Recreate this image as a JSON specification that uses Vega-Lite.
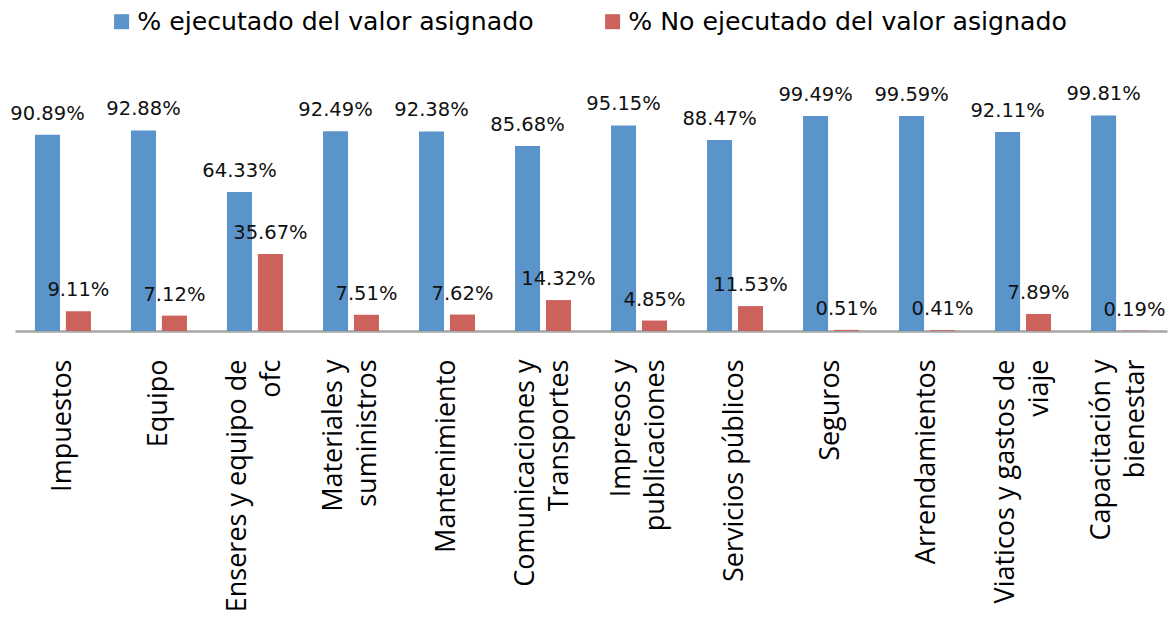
{
  "$schema": "https://vega.github.io/schema/vega-lite/v6.json",
  "width": 1152,
  "height": 216,
  "autosize": {"type": "none"},
  "padding": {"left": 15, "top": 115, "right": 5, "bottom": 291},
  "data": {
    "values": [
      {"categoria": "Impuestos", "serie": "% ejecutado del valor asignado", "valor": 0.9089},
      {"categoria": "Impuestos", "serie": "% No ejecutado del valor asignado", "valor": 0.0911},
      {"categoria": "Equipo", "serie": "% ejecutado del valor asignado", "valor": 0.9288},
      {"categoria": "Equipo", "serie": "% No ejecutado del valor asignado", "valor": 0.0712},
      {"categoria": "Enseres y equipo de\nofc", "serie": "% ejecutado del valor asignado", "valor": 0.6433},
      {"categoria": "Enseres y equipo de\nofc", "serie": "% No ejecutado del valor asignado", "valor": 0.3567},
      {"categoria": "Materiales y\nsuministros", "serie": "% ejecutado del valor asignado", "valor": 0.9249},
      {"categoria": "Materiales y\nsuministros", "serie": "% No ejecutado del valor asignado", "valor": 0.0751},
      {"categoria": "Mantenimiento", "serie": "% ejecutado del valor asignado", "valor": 0.9238},
      {"categoria": "Mantenimiento", "serie": "% No ejecutado del valor asignado", "valor": 0.0762},
      {"categoria": "Comunicaciones y\nTransportes", "serie": "% ejecutado del valor asignado", "valor": 0.8568},
      {"categoria": "Comunicaciones y\nTransportes", "serie": "% No ejecutado del valor asignado", "valor": 0.1432},
      {"categoria": "Impresos y\npublicaciones", "serie": "% ejecutado del valor asignado", "valor": 0.9515},
      {"categoria": "Impresos y\npublicaciones", "serie": "% No ejecutado del valor asignado", "valor": 0.0485},
      {"categoria": "Servicios públicos", "serie": "% ejecutado del valor asignado", "valor": 0.8847},
      {"categoria": "Servicios públicos", "serie": "% No ejecutado del valor asignado", "valor": 0.1153},
      {"categoria": "Seguros", "serie": "% ejecutado del valor asignado", "valor": 0.9949},
      {"categoria": "Seguros", "serie": "% No ejecutado del valor asignado", "valor": 0.0051},
      {"categoria": "Arrendamientos", "serie": "% ejecutado del valor asignado", "valor": 0.9959},
      {"categoria": "Arrendamientos", "serie": "% No ejecutado del valor asignado", "valor": 0.0041},
      {"categoria": "Viaticos y gastos de\nviaje", "serie": "% ejecutado del valor asignado", "valor": 0.9211},
      {"categoria": "Viaticos y gastos de\nviaje", "serie": "% No ejecutado del valor asignado", "valor": 0.0789},
      {"categoria": "Capacitación y\nbienestar", "serie": "% ejecutado del valor asignado", "valor": 0.9981},
      {"categoria": "Capacitación y\nbienestar", "serie": "% No ejecutado del valor asignado", "valor": 0.0019}
    ]
  },
  "encoding": {
    "x": {
      "field": "categoria",
      "type": "nominal",
      "sort": null,
      "scale": {"paddingInner": 0.417, "paddingOuter": 0.208},
      "axis": {
        "title": null,
        "labelAngle": -90,
        "ticks": false,
        "domainColor": "#A6A6A6",
        "domainWidth": 2.5,
        "labelFont": "Open Sans",
        "labelFontSize": 27,
        "labelColor": "#000000",
        "labelPadding": 28,
        "labelLineHeight": 34,
        "labelLimit": 400,
        "labelOverlap": false,
        "labelOffset": {
          "condition": {"test": "indexof(datum.value, '\\n') >= 0", "value": -17},
          "value": 0
        },
        "labelExpr": "split(datum.label, '\\n')"
      }
    },
    "xOffset": {
      "field": "serie",
      "type": "nominal",
      "sort": null,
      "scale": {"paddingInner": 0.19, "paddingOuter": 0}
    },
    "y": {
      "field": "valor",
      "type": "quantitative",
      "scale": {"domain": [0, 1], "nice": false, "zero": true},
      "axis": null
    }
  },
  "layer": [
    {
      "mark": {"type": "bar"},
      "encoding": {
        "color": {
          "field": "serie",
          "type": "nominal",
          "sort": null,
          "scale": {
            "domain": ["% ejecutado del valor asignado", "% No ejecutado del valor asignado"],
            "range": ["#5B93CB", "#CC625B"]
          },
          "legend": {
            "title": null,
            "orient": "none",
            "legendX": 94,
            "legendY": -106,
            "direction": "horizontal",
            "columns": 2,
            "symbolType": "square",
            "symbolSize": 225,
            "symbolStrokeWidth": 0,
            "labelFont": "DejaVu Sans",
            "labelFontSize": 25.2,
            "labelColor": "#000000",
            "labelOffset": 3,
            "columnPadding": 66,
            "labelLimit": 600,
            "padding": 0
          }
        }
      }
    },
    {
      "mark": {
        "type": "text",
        "font": "DejaVu Sans",
        "fontSize": 19.5,
        "color": "#111111",
        "baseline": "alphabetic",
        "dy": -15
      },
      "encoding": {
        "text": {"field": "valor", "type": "quantitative", "format": ".2%"}
      }
    }
  ],
  "config": {"view": {"stroke": null}}
}
